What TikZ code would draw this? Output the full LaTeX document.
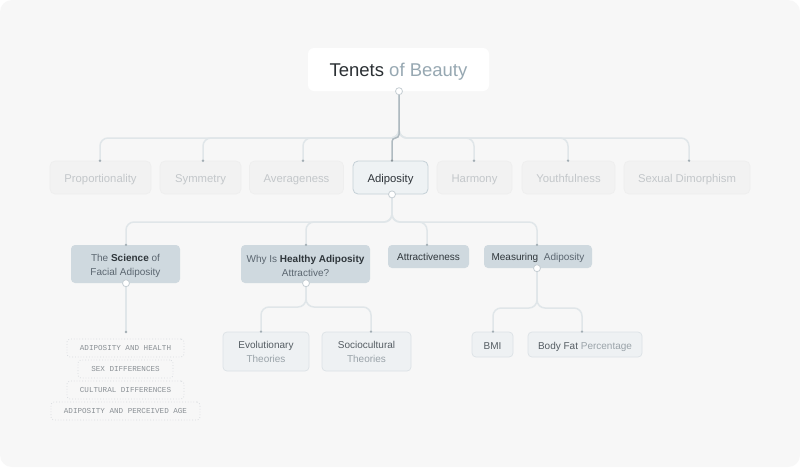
\documentclass[tikz,border=0pt]{standalone}
\usepackage{fontspec}
\setmainfont{Liberation Sans}
\newfontfamily\mymono{Liberation Mono}
\usetikzlibrary{calc}
\newcommand{\tallstrut}{\rule{0pt}{11.4pt}}
\definecolor{bgc}{HTML}{F7F7F7}
\definecolor{titledark}{HTML}{2B3034}
\definecolor{titlelight}{HTML}{97A8B2}
\definecolor{offfill}{HTML}{F2F2F2}
\definecolor{offdraw}{HTML}{EEEEEE}
\definecolor{offtext}{HTML}{C3C7CA}
\definecolor{onfill}{HTML}{EEF2F4}
\definecolor{ondraw}{HTML}{C5D0D7}
\definecolor{ontext}{HTML}{2E3439}
\definecolor{midfill}{HTML}{CFD9DF}
\definecolor{middark}{HTML}{2F363B}
\definecolor{midgrey}{HTML}{5B6670}
\definecolor{lowfill}{HTML}{EEF1F3}
\definecolor{lowdraw}{HTML}{DCE2E6}
\definecolor{lowdark}{HTML}{555D63}
\definecolor{lowgrey}{HTML}{9AA3A9}
\definecolor{tagtext}{HTML}{8A9095}
\definecolor{tagdraw}{HTML}{DADDE0}
\definecolor{linelight}{HTML}{E0E6E9}
\definecolor{linedark}{HTML}{AFBAC0}
\definecolor{portdraw}{HTML}{C6CED3}
\definecolor{dotc}{HTML}{A3AEB4}
\begin{document}
\begin{tikzpicture}[x=1pt,y=-1pt,
  titlebox/.style={fill=white, rounded corners=6, minimum width=181, minimum height=43, inner sep=0, text height=16, text depth=1.6},
  offbox/.style={fill=offfill, draw=offdraw, line width=0.6, rounded corners=5, minimum height=33, inner sep=0, text=offtext, font=\fontsize{11.3}{13}\selectfont, text height=11, text depth=2},
  onbox/.style={fill=onfill, draw=ondraw, line width=0.8, rounded corners=5, minimum height=33, inner sep=0, text=ontext, font=\fontsize{11.3}{13}\selectfont, text height=11, text depth=2},
  midbox/.style={fill=midfill, rounded corners=4, inner sep=0, align=center, text=midgrey, font=\fontsize{10}{14}\selectfont},
  oneline/.style={text height=10, text depth=1.6},
  lowbox/.style={fill=lowfill, draw=lowdraw, line width=0.7, rounded corners=4, inner sep=0, align=center, text=lowgrey, font=\fontsize{10}{14}\selectfont},
  lowone/.style={text height=10.5, text depth=1.5},
  tagbox/.style={draw=tagdraw, dotted, line width=0.8, rounded corners=3, minimum height=18, inner sep=0, text=tagtext, font=\mymono\fontsize{7.6}{9}\selectfont},
  conn/.style={draw=linelight, line width=1.5, rounded corners=8},
  connon/.style={draw=linedark, line width=1.5, rounded corners=3.5},
  port/.style={circle, fill=white, draw=portdraw, line width=0.8, minimum size=7, inner sep=0},
  enddot/.style={circle, fill=dotc, minimum size=2.6, inner sep=0}
]
\useasboundingbox (0,0) rectangle (800,467);
\fill[white] (0,0) rectangle (800,467);
\fill[bgc, rounded corners=12] (0,0) rectangle (800,467);

% title
\node[titlebox] (title) at (398.5,69.5) {\fontsize{18.5}{22}\selectfont\textcolor{titledark}{Tenets} \textcolor{titlelight}{of Beauty}};

% level 1
\node[offbox, minimum width=101] (prop) at (100.5,177.5) {Proportionality};
\node[offbox, minimum width=81] (sym) at (200.5,177.5) {Symmetry};
\node[offbox, minimum width=94] (avg) at (296.5,177.5) {Averageness};
\node[onbox, minimum width=75] (adi) at (390.5,177.5) {Adiposity};
\node[offbox, minimum width=75] (har) at (474.5,177.5) {Harmony};
\node[offbox, minimum width=93] (you) at (568.5,177.5) {Youthfulness};
\node[offbox, minimum width=126] (sex) at (687,177.5) {Sexual Dimorphism};

% level 2
\node[midbox, minimum width=109, minimum height=38] (sci) at (125.5,264) {\tallstrut The \textcolor{middark}{\textbf{Science}} of\\Facial Adiposity};
\node[midbox, minimum width=129, minimum height=38] (why) at (305.5,264) {\tallstrut Why Is \textcolor{middark}{\textbf{Healthy Adiposity}}\\Attractive?};
\node[midbox, oneline, minimum width=81, minimum height=23, text=middark] (att) at (428.5,256.5) {Attractiveness};
\node[midbox, oneline, minimum width=108, minimum height=23] (mea) at (538,256.5) {\textcolor{middark}{Measuring}\ \ Adiposity};

% level 3 tags
\node[tagbox, minimum width=117] (ah) at (125.5,348) {ADIPOSITY AND HEALTH};
\node[tagbox, minimum width=95] (sd) at (125.5,369) {SEX DIFFERENCES};
\node[tagbox, minimum width=117] (cd) at (125.5,390) {CULTURAL DIFFERENCES};
\node[tagbox, minimum width=149] (apa) at (125.5,411) {ADIPOSITY AND PERCEIVED AGE};

% level 3 boxes
\node[lowbox, minimum width=86, minimum height=39] (evo) at (266,351.5) {\textcolor{lowdark}{Evolutionary}\\Theories};
\node[lowbox, minimum width=89, minimum height=39] (soc) at (366.5,351.5) {\textcolor{lowdark}{Sociocultural}\\Theories};
\node[lowbox, lowone, minimum width=41, minimum height=25] (bmi) at (492.5,344.5) {\textcolor{lowdark}{BMI}};
\node[lowbox, lowone, minimum width=114, minimum height=25] (bf) at (585,344.5) {\textcolor{lowdark}{Body Fat} Percentage};

% connector ports and ends
\coordinate (tp) at ([xshift=0.5]title.south);
\coordinate (ap) at ([xshift=1.5]adi.south);
\coordinate (sp) at ([xshift=0.5]sci.south);
\coordinate (wp) at ([xshift=0.5]why.south);
\coordinate (mp) at ([xshift=-1]mea.south);
\coordinate (se) at (126,332);

\coordinate (e1) at ([xshift=-0.5]prop.north);
\coordinate (e2) at ([xshift=2.5]sym.north);
\coordinate (e3) at ([xshift=6.5]avg.north);
\coordinate (e4) at ([xshift=1.5]adi.north);
\coordinate (e5) at ([xshift=-0.5]har.north);
\coordinate (e6) at ([xshift=-0.5]you.north);
\coordinate (e7) at ([xshift=2]sex.north);

\coordinate (f1) at ([xshift=0.5]sci.north);
\coordinate (f2) at ([xshift=0.5]why.north);
\coordinate (f3) at ([xshift=-1.5]att.north);
\coordinate (f4) at ([xshift=-1]mea.north);

\coordinate (g1) at ([xshift=-5]evo.north);
\coordinate (g2) at ([xshift=4.5]soc.north);
\coordinate (h1) at ([xshift=0.5]bmi.north);
\coordinate (h2) at ([xshift=-3]bf.north);

% title -> level 1
\foreach \e in {e1,e2,e3,e5,e6,e7}
  \draw[conn] (tp) -- (tp |- 0,138) -- (\e |- 0,138) -- (\e);
\draw[connon] (tp) -- (tp |- 0,138) -- (e4 |- 0,138) -- (e4);

% adiposity -> level 2
\foreach \e in {f1,f2,f3,f4}
  \draw[conn] (ap) -- (ap |- 0,222) -- (\e |- 0,222) -- (\e);

% science -> tags
\draw[conn] (sp) -- (se);

% why -> theories
\foreach \e in {g1,g2}
  \draw[conn] (wp) -- (wp |- 0,307) -- (\e |- 0,307) -- (\e);

% measuring -> bmi, body fat
\foreach \e in {h1,h2}
  \draw[conn] (mp) -- (mp |- 0,308) -- (\e |- 0,308) -- (\e);

% end dots
\foreach \e in {e1,e2,e3,e5,e6,e7,f1,f2,f3,f4,g1,g2,h1,h2,se}
  \node[enddot] at (\e) {};
\node[enddot, fill=linedark!80!black] at (e4) {};

% ports
\foreach \p in {tp,ap,sp,wp,mp}
  \node[port] at (\p) {};
\end{tikzpicture}
\end{document}
